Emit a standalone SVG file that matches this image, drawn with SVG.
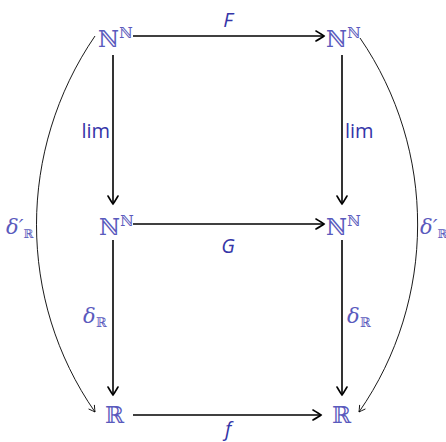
<svg xmlns="http://www.w3.org/2000/svg" width="446" height="442" viewBox="0 0 446 442">
<defs>
<marker id="ah" viewBox="-10 -6 12 12" markerWidth="12" markerHeight="12" refX="0" refY="0" orient="auto" markerUnits="userSpaceOnUse">
<path d="M-8,-5 Q-2,-1.5 0,0 Q-2,1.5 -8,5" fill="none" stroke="#000" stroke-width="1.6" stroke-linecap="round"/>
</marker>
<marker id="ahs" viewBox="-10 -6 12 12" markerWidth="10" markerHeight="10" refX="0" refY="0" orient="auto" markerUnits="userSpaceOnUse">
<path d="M-7,-4 Q-2,-1 0,0 Q-2,1 -7,4" fill="none" stroke="#000" stroke-width="1" stroke-linecap="round"/>
</marker>
</defs>
<style>
.node{font-family:"DejaVu Serif",serif;font-size:23px;fill:#5a5abd}
.sup{font-size:15px}
.lab{font-family:"Open Sans","DejaVu Sans",sans-serif;font-size:20px;fill:#3535a8}
.it{font-style:italic}
.mth{font-family:"DejaVu Serif",serif;fill:#5a5abd}
.main{stroke:#000;stroke-width:1.6;fill:none;marker-end:url(#ah)}
.thin{stroke:#000;stroke-width:0.9;fill:none;marker-end:url(#ahs)}
</style>
<g id="connectors">
<path class="main" d="M133,36 H324"/>
<path class="main" d="M133,224 H324"/>
<path class="main" d="M133,415 H321"/>
<path class="main" d="M113,55 V204"/>
<path class="main" d="M342,55 V204"/>
<path class="main" d="M113,240 V395"/>
<path class="main" d="M342,240 V395"/>
<path class="thin" d="M95,36 C17,150 17,300 95,412"/>
<path class="thin" d="M360,38 C437,150 437,300 359,412"/>
<text class="lab it" x="228" y="27" text-anchor="middle" font-size="21">F</text>
<text class="lab it" x="228" y="253" text-anchor="middle" font-size="21">G</text>
<text class="lab it" x="228" y="436" text-anchor="middle" font-size="21">f</text>
<text class="lab" x="110" y="138" text-anchor="end">lim</text>
<text class="lab" x="345" y="138">lim</text>
<text class="mth" x="83" y="323" font-size="21" font-style="italic">δ<tspan font-size="13" font-style="normal" dy="4">ℝ</tspan></text>
<text class="mth" x="347" y="323" font-size="21" font-style="italic">δ<tspan font-size="13" font-style="normal" dy="4">ℝ</tspan></text>
<text class="mth" x="6" y="234" font-size="21" font-style="italic">δ′<tspan font-size="12" font-style="normal" dy="4">ℝ</tspan></text>
<text class="mth" x="420" y="234" font-size="21" font-style="italic">δ′<tspan font-size="12" font-style="normal" dy="4">ℝ</tspan></text>
</g>
<g id="n-tl"><text class="node" x="98" y="47">ℕ<tspan class="sup" dy="-9">ℕ</tspan></text></g>
<g id="n-tr"><text class="node" x="326" y="47">ℕ<tspan class="sup" dy="-9">ℕ</tspan></text></g>
<g id="n-ml"><text class="node" x="99" y="235">ℕ<tspan class="sup" dy="-9">ℕ</tspan></text></g>
<g id="n-mr"><text class="node" x="326" y="235">ℕ<tspan class="sup" dy="-9">ℕ</tspan></text></g>
<g id="n-bl"><text class="node" x="105" y="423">ℝ</text></g>
<g id="n-br"><text class="node" x="332" y="423">ℝ</text></g>
</svg>
